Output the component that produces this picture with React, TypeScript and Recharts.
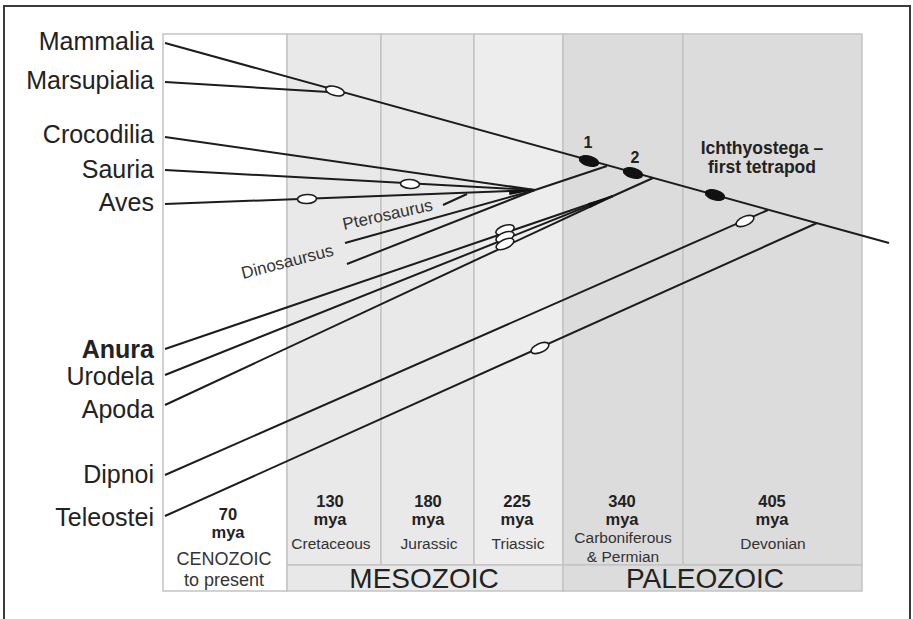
import React from 'react';
import { ComposedChart, XAxis, YAxis, Scatter, ReferenceArea } from 'recharts';

// Diagram coordinates (x: position along the time band, y: vertical position)
const taxa = ['Mammalia', 'Marsupialia', 'Crocodilia', 'Sauria', 'Aves', 'Anura', 'Urodela', 'Apoda', 'Dipnoi', 'Teleostei'];
const taxonLabelY = [41, 80.5, 134, 169.5, 202, 349.5, 376, 409.5, 474.5, 517.5];

const mammalia = [{ x: 2, y: 43 }, { x: 726, y: 243 }];
const marsupialia = [{ x: 2, y: 82 }, { x: 182, y: 93 }];
const crocodilia = [{ x: 2, y: 137 }, { x: 372, y: 190 }];
const sauria = [{ x: 2, y: 170 }, { x: 372, y: 190 }];
const aves = [{ x: 2, y: 204 }, { x: 372, y: 190 }];
const pterosaurus = [{ x: 182, y: 243 }, { x: 372, y: 190 }];
const dinosaursus = [{ x: 184, y: 264 }, { x: 372, y: 190 }];
const reptileStem = [{ x: 372, y: 190 }, { x: 444, y: 166 }];
const anura = [{ x: 2, y: 349 }, { x: 450, y: 196 }];
const urodela = [{ x: 2, y: 375 }, { x: 450, y: 196 }];
const apoda = [{ x: 2, y: 405 }, { x: 450, y: 196 }];
const amphibianStem = [{ x: 450, y: 196 }, { x: 490, y: 178 }];
const dipnoi = [{ x: 2, y: 475 }, { x: 605, y: 210 }];
const teleostei = [{ x: 2, y: 516 }, { x: 654, y: 223 }];
const pteroLeader = [{ x: 280, y: 205 }, { x: 304, y: 194 }];

const lineages = [mammalia, marsupialia, crocodilia, sauria, aves, pterosaurus, dinosaursus, reptileStem, anura, urodela, apoda, amphibianStem, dipnoi, teleostei, pteroLeader];

const openNodes = [
  { x: 172, y: 91, on: 'mammalia' },
  { x: 247, y: 184, on: 'sauria' },
  { x: 144, y: 199, on: 'aves' },
  { x: 342, y: 230, on: 'anura' },
  { x: 342, y: 237, on: 'urodela' },
  { x: 342, y: 244, on: 'apoda' },
  { x: 582, y: 221, on: 'dipnoi' },
  { x: 377, y: 348, on: 'teleostei' },
];
const filledNodes = [
  { x: 426, y: 161, on: 'mammalia' },
  { x: 470, y: 173, on: 'mammalia' },
  { x: 552, y: 195, on: 'mammalia' },
];
// convergence points where several lineages merge
const junctions = [
  { x: 372, y: 190, from: ['crocodilia', 'sauria', 'aves', 'pterosaurus', 'dinosaursus'] },
  { x: 450, y: 196, from: ['anura', 'urodela', 'apoda'] },
];
const lineageByName: Record<string, { x: number; y: number }[]> = {
  mammalia, crocodilia, sauria, aves, pterosaurus, dinosaursus, anura, urodela, apoda, dipnoi, teleostei,
};

// Periods (columns)
const periodBounds = [0, 124, 218, 311, 400, 520, 699];
const periodMya = ['70', '130', '180', '225', '340', '405'];
const periodNames = [['CENOZOIC', 'to present'], ['Cretaceous'], ['Jurassic'], ['Triassic'], ['Carboniferous', '& Permian'], ['Devonian']];
const periodLabelX = [65, 167, 265, 354, 459, 609];
const periodMyaY = [520, 507, 507, 507, 507, 507];
const periodNameY = [565, 549, 549, 549, 543, 549];

const eras = ['MESOZOIC', 'PALEOZOIC'];
const eraBounds = [[124, 400], [400, 699]];
const eraLabelX = [261, 542];
const eraLabelY = 588;

const panelTop = 34;
const panelBottom = 591;
const eraTop = 565;

const notes = [
  { x: 425, y: 148, lines: ['1'] },
  { x: 472, y: 163, lines: ['2'] },
  { x: 599, y: 154, lines: ['Ichthyostega –', 'first tetrapod'] },
];
const slanted = [
  { x: 181, y: 230, text: 'Pterosaurus', angle: -12.5 },
  { x: 80, y: 279, text: 'Dinosaursus', angle: -14.5 },
];

const periodLabels = periodMya.map((m, i) => ({ x: periodLabelX[i], y: periodMyaY[i], mya: m, names: periodNames[i], nameY: periodNameY[i], idx: i }));
const eraLabels = eras.map((e, i) => ({ x: eraLabelX[i], y: eraLabelY, text: e }));

const FONT = '"Liberation Sans", Arial, Helvetica, sans-serif';
const INK = '#1c1c1c';

const Empty = () => <g />;

function angleOf(name: string) {
  const pts = lineageByName[name];
  const a = pts[0], b = pts[pts.length - 1];
  return Math.atan2(b.y - a.y, b.x - a.x);
}
const deg = (r: number) => (r * 180) / Math.PI;

const OpenNode = (p: any) => (
  <ellipse cx={p.cx} cy={p.cy} rx={9.5} ry={4.5} fill="#ffffff" stroke={INK} strokeWidth={1.6}
    transform={`rotate(${deg(angleOf(p.payload.on))} ${p.cx} ${p.cy})`} />
);
const FilledNode = (p: any) => (
  <ellipse cx={p.cx} cy={p.cy} rx={10} ry={5} fill="#111" stroke="#111" strokeWidth={1}
    transform={`rotate(${deg(angleOf(p.payload.on))} ${p.cx} ${p.cy})`} />
);
const Wedge = (p: any) => {
  const angs: number[] = p.payload.from.map((n: string) => angleOf(n));
  const t = angs.reduce((s, a) => s + a, 0) / angs.length;
  const L = 26, w = 2.6;
  const bx = p.cx - L * Math.cos(t), by = p.cy - L * Math.sin(t);
  const nx = -Math.sin(t) * w, ny = Math.cos(t) * w;
  return <polygon points={`${p.cx},${p.cy} ${bx + nx},${by + ny} ${bx - nx},${by - ny}`} fill="#111" />;
};

const NoteText = (p: any) => (
  <text x={p.cx} y={p.cy} textAnchor="middle" fontFamily={FONT} fontWeight="bold" fontSize={p.payload.lines.length > 1 ? 17.5 : 16} fill="#222">
    {p.payload.lines.map((l: string, i: number) => (
      <tspan key={i} x={p.cx} dy={i === 0 ? 0 : 19}>{l}</tspan>
    ))}
  </text>
);
const SlantText = (p: any) => (
  <text x={p.cx} y={p.cy} fontFamily={FONT} fontSize={17} fill="#333"
    transform={`rotate(${p.payload.angle} ${p.cx} ${p.cy})`}>{p.payload.text}</text>
);
const PeriodText = (p: any) => {
  const d = p.payload;
  const ceno = d.idx === 0;
  const nameDy = d.nameY - d.y;
  return (
    <g fontFamily={FONT} fill="#222">
      <text x={p.cx} y={p.cy} textAnchor="middle" fontWeight="bold" fontSize={16.5}>
        <tspan x={p.cx}>{d.mya}</tspan>
        <tspan x={p.cx} dy={18}>mya</tspan>
      </text>
      <text x={ceno ? p.cx - 4 : p.cx + 1} y={p.cy + nameDy} textAnchor="middle" fontSize={ceno ? 18 : 15.5} fill="#333">
        {d.names.map((n: string, i: number) => (
          <tspan key={i} x={ceno ? p.cx - 4 : p.cx + 1} dy={i === 0 ? 0 : ceno ? 21 : 19}>{n}</tspan>
        ))}
      </text>
    </g>
  );
};
const EraText = (p: any) => (
  <text x={p.cx} y={p.cy} textAnchor="middle" fontFamily={FONT} fontSize={28} fill="#222">{p.payload.text}</text>
);

const TaxonTick = (p: any) => {
  const i = taxonLabelY.indexOf(p.payload.value);
  const name = taxa[i] ?? '';
  return (
    <text x={154} y={p.y} dy="0.355em" textAnchor="end" fontFamily={FONT} fontSize={25}
      fontWeight={name === 'Anura' ? 'bold' : 'normal'} fill="#222">{name}</text>
  );
};

const lightFill = '#e9e9e9';
const darkFill = '#dcdcdc';
const border = '#c4c4c4';

export default function App() {
  return (
    <div style={{ position: 'fixed', left: 0, top: 0, width: 913, height: 619, overflow: 'hidden', background: '#fff' }}>
      <div style={{ position: 'absolute', left: 3, top: 5, width: 904, height: 640, border: '2px solid #3a3a3a' }} />
      <div style={{ position: 'absolute', left: 0, top: 0 }}>
        <ComposedChart width={913} height={619} margin={{ top: 0, right: 0, bottom: 0, left: 0 }}>
          <XAxis type="number" dataKey="x" domain={[0, 750]} hide allowDataOverflow />
          <YAxis type="number" dataKey="y" domain={[0, 619]} reversed width={163} ticks={taxonLabelY} interval={0}
            axisLine={false} tickLine={false} tickSize={0} tick={<TaxonTick />} allowDataOverflow />
          {periodBounds.slice(0, -1).map((b, i) => (
            <ReferenceArea key={`p${i}`} x1={b} x2={periodBounds[i + 1]} y1={panelTop} y2={i === 0 ? panelBottom : eraTop}
              fill={i === 0 ? '#ffffff' : i >= 4 ? darkFill : i === 3 ? '#ededed' : lightFill} fillOpacity={1}
              stroke={border} strokeWidth={1.5} ifOverflow="visible" />
          ))}
          {eraBounds.map((b, i) => (
            <ReferenceArea key={`e${i}`} x1={b[0]} x2={b[1]} y1={eraTop} y2={panelBottom}
              fill={i === 0 ? '#e8e8e8' : darkFill} fillOpacity={1} stroke={border} strokeWidth={1.5} ifOverflow="visible" />
          ))}
          {lineages.map((d, i) => (
            <Scatter key={`l${i}`} data={d} line={{ stroke: INK, strokeWidth: 2 }} lineType="joint" shape={<Empty />} isAnimationActive={false} />
          ))}
          <Scatter data={junctions} shape={<Wedge />} isAnimationActive={false} />
          <Scatter data={openNodes} shape={<OpenNode />} isAnimationActive={false} />
          <Scatter data={filledNodes} shape={<FilledNode />} isAnimationActive={false} />
          <Scatter data={notes} shape={<NoteText />} isAnimationActive={false} />
          <Scatter data={slanted} shape={<SlantText />} isAnimationActive={false} />
          <Scatter data={periodLabels} shape={<PeriodText />} isAnimationActive={false} />
          <Scatter data={eraLabels} shape={<EraText />} isAnimationActive={false} />
        </ComposedChart>
      </div>
    </div>
  );
}
